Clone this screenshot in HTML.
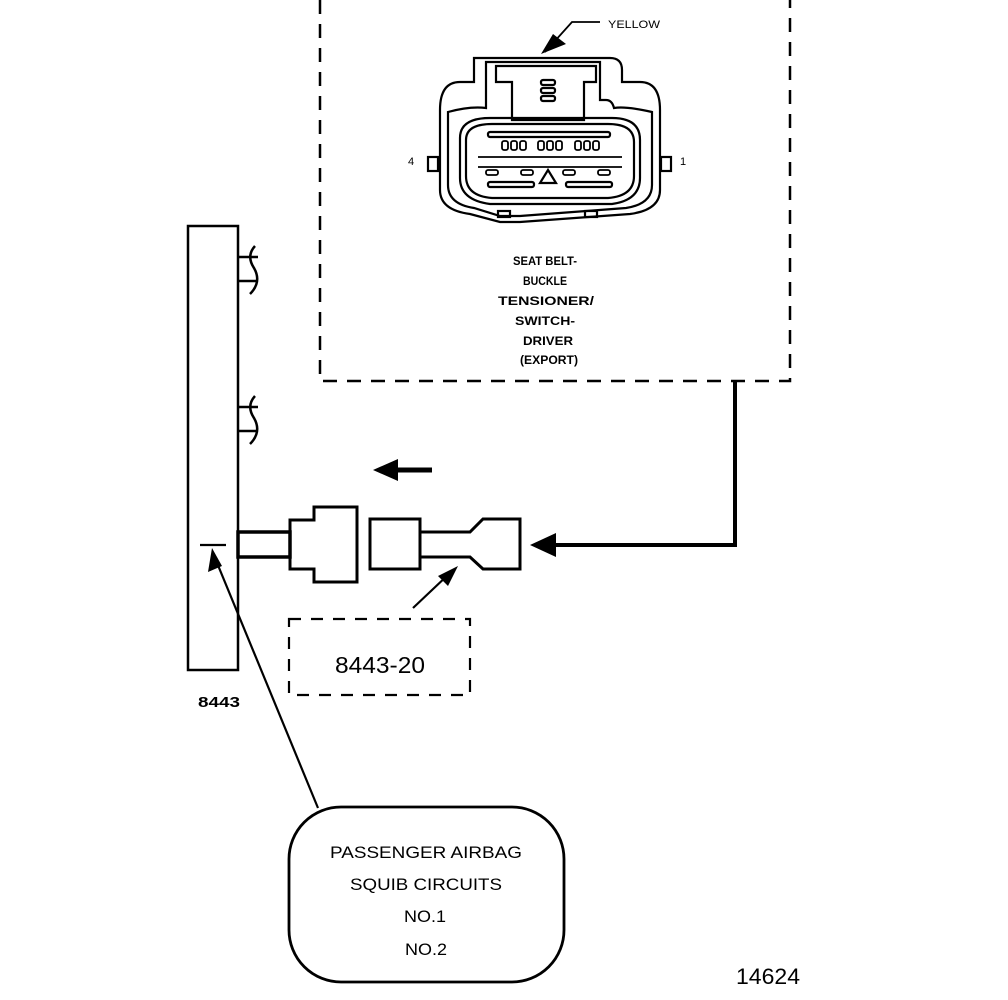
<!DOCTYPE html>
<html><head><style>html,body{margin:0;padding:0;background:#fff}svg{display:block}</style></head>
<body>
<svg width="1008" height="1000" viewBox="0 0 1008 1000" xmlns="http://www.w3.org/2000/svg" font-family="Liberation Sans, sans-serif">
<g fill="none" stroke="#000">
<path d="M320 0 V381 H790 V0" stroke-width="2.5" stroke-dasharray="14,10"/>
<g stroke-width="2.2">
<path d="M474 58 H610 Q622 58 622 70 V82 H640 Q660 82 660 110 V190 Q660 210 630 214 L520 222 H500 L470 214 Q440 210 440 190 V110 Q440 82 460 82 H474 Z"/>
<path d="M486 62 H600 V100 H606 Q612 100 614 108 Q626 106 652 112 V185 Q652 204 626 208 L520 216 H500 L474 208 Q448 204 448 185 V112 Q470 106 486 108 Z"/>
<path d="M460 138 Q460 118 490 118 H612 Q640 118 640 140 V178 Q640 200 612 204 H490 Q460 200 460 178 Z"/>
<path d="M466 140 Q466 124 492 124 H608 Q634 124 634 142 V176 Q634 196 608 198 H492 Q466 196 466 176 Z"/>
<path d="M496 66 H596 V82 H584 V120 H512 V82 H496 Z"/>
<rect x="488" y="132" width="122" height="5" rx="2"/>
<rect x="488" y="182" width="46" height="5" rx="2"/>
<rect x="566" y="182" width="46" height="5" rx="2"/>
<path d="M548 170 L556 183 H540 Z"/>
<rect x="541" y="80" width="14" height="5" rx="2"/>
<rect x="541" y="88" width="14" height="5" rx="2"/>
<rect x="541" y="96" width="14" height="5" rx="2"/>
<rect x="428" y="157" width="10" height="14"/>
<rect x="661" y="157" width="10" height="14"/>
<rect x="498" y="211" width="12" height="6"/>
<rect x="585" y="211" width="12" height="6"/>
</g>
<g stroke-width="1.8">
<rect x="502" y="141" width="6" height="9" rx="2"/><rect x="511" y="141" width="6" height="9" rx="2"/><rect x="520" y="141" width="6" height="9" rx="2"/>
<rect x="538" y="141" width="6" height="9" rx="2"/><rect x="547" y="141" width="6" height="9" rx="2"/><rect x="556" y="141" width="6" height="9" rx="2"/>
<rect x="575" y="141" width="6" height="9" rx="2"/><rect x="584" y="141" width="6" height="9" rx="2"/><rect x="593" y="141" width="6" height="9" rx="2"/>
<path d="M478 157 H622 M478 167 H622"/>
<rect x="486" y="170" width="12" height="5" rx="2"/><rect x="521" y="170" width="12" height="5" rx="2"/><rect x="563" y="170" width="12" height="5" rx="2"/><rect x="598" y="170" width="12" height="5" rx="2"/>
</g>
<path d="M545 52 L572 22 H600" stroke-width="1.8"/>
<rect x="188" y="226" width="50" height="444" stroke-width="2.5"/>
<path d="M238 257 H258 M238 281 H258 M255 246 Q246 256 254 268 Q262 282 250 294" stroke-width="2.5"/>
<path d="M238 407 H258 M238 431 H258 M255 396 Q246 406 254 418 Q262 432 250 444" stroke-width="2.5"/>
<path d="M432 470 H398" stroke-width="5"/>
<rect x="238" y="532" width="52" height="25" stroke-width="3.5"/>
<path d="M290 520 H314 V507 H357 V582 H314 V569 H290 Z" stroke-width="3"/>
<rect x="370" y="519" width="50" height="50" stroke-width="3"/>
<path d="M420 532 H470 L483 519 H520 V569 H483 L470 557 H420" stroke-width="3"/>
<path d="M735 381 V545 H555" stroke-width="4"/>
<path d="M413 608 L450 573" stroke-width="2.2"/>
<path d="M318 808 L215 558" stroke-width="2.2"/>
<path d="M200 545 H226" stroke-width="2.2"/>
<rect x="289" y="619" width="181" height="76" stroke-width="2.2" stroke-dasharray="12,10"/>
<rect x="289" y="807" width="275" height="175" rx="52" stroke-width="2.8"/>
</g>
<g fill="#000">
<path d="M373 470 L398 459 V481 Z"/>
<path d="M530 545 L556 533 V557 Z"/>
<path d="M458 566 L438 576 L448 586 Z"/>
<path d="M212 548 L208 572 L222 566 Z"/>
<path d="M541 54 L553 34 L566 44 Z"/>
</g>
<g font-size="11" text-anchor="middle">
<text x="634" y="28" textLength="52" lengthAdjust="spacingAndGlyphs">YELLOW</text>
<text x="411" y="165">4</text>
<text x="683" y="165">1</text>
</g>
<g font-size="12" font-weight="bold" text-anchor="middle">
<text x="545" y="265" textLength="64" lengthAdjust="spacingAndGlyphs">SEAT BELT-</text>
<text x="545" y="285" textLength="44" lengthAdjust="spacingAndGlyphs">BUCKLE</text>
<text x="546" y="305" textLength="96" lengthAdjust="spacingAndGlyphs">TENSIONER/</text>
<text x="545" y="325" textLength="60" lengthAdjust="spacingAndGlyphs">SWITCH-</text>
<text x="548" y="345" textLength="50" lengthAdjust="spacingAndGlyphs">DRIVER</text>
<text x="549" y="364" textLength="58" lengthAdjust="spacingAndGlyphs">(EXPORT)</text>
</g>
<text x="219" y="707" font-size="15" font-weight="bold" text-anchor="middle" textLength="42" lengthAdjust="spacingAndGlyphs">8443</text>
<text x="380" y="673" font-size="23" text-anchor="middle" textLength="90" lengthAdjust="spacingAndGlyphs">8443-20</text>
<g font-size="17" text-anchor="middle">
<text x="426" y="858" textLength="192" lengthAdjust="spacingAndGlyphs">PASSENGER AIRBAG</text>
<text x="426" y="890" textLength="152" lengthAdjust="spacingAndGlyphs">SQUIB CIRCUITS</text>
<text x="425" y="922" textLength="42" lengthAdjust="spacingAndGlyphs">NO.1</text>
<text x="426" y="955" textLength="42" lengthAdjust="spacingAndGlyphs">NO.2</text>
</g>
<text x="768" y="984" font-size="22" text-anchor="middle" textLength="64" lengthAdjust="spacingAndGlyphs">14624</text>
</svg>
</body></html>
